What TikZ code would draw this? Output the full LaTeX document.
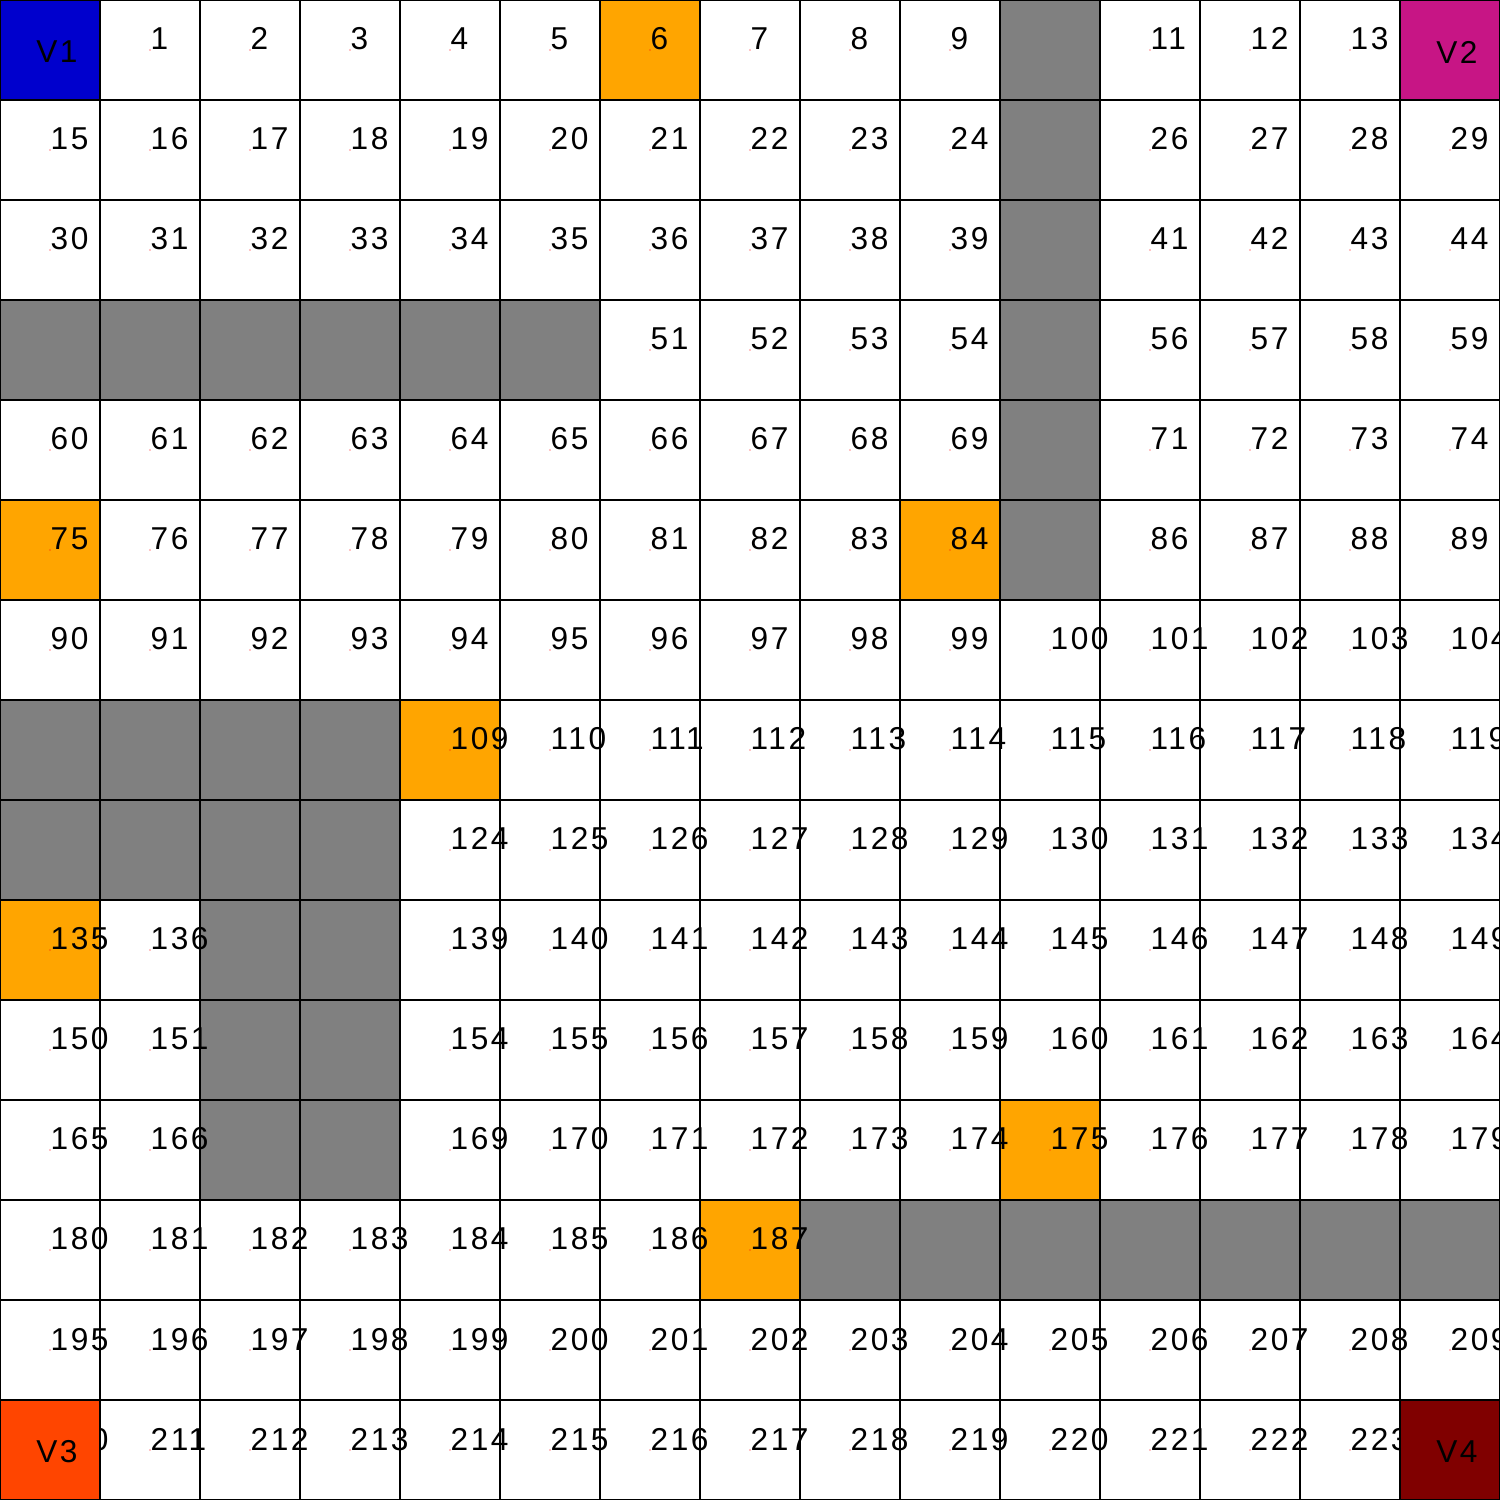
\documentclass[tikz,border=0pt]{standalone}
\usepackage{fontspec}
\setmainfont{Liberation Sans}
\newfontfamily\numfont[LetterSpace=8]{Liberation Sans}
\definecolor{vone}{HTML}{0000CD}
\definecolor{vtwo}{HTML}{C71585}
\definecolor{vthree}{HTML}{FF4500}
\definecolor{vfour}{HTML}{800000}
\definecolor{obstgrey}{HTML}{808080}
\definecolor{markorange}{HTML}{FFA500}
\tikzset{
  cellline/.style={draw=black, line width=0.3pt},
  numlabel/.style={anchor=base west, inner sep=0pt, font=\numfont\fontsize{9}{10}\selectfont},
  vlabel/.style={anchor=center, inner sep=0pt, font=\numfont\fontsize{9}{10}\selectfont},
}
\begin{document}
\begin{tikzpicture}
\useasboundingbox (0,0) rectangle (15,15);
\clip (0,0) rectangle (15,15);
\fill[white] (0,0) rectangle (15,15);
% obstacles (no label) and vertex cells whose label is fully hidden
\foreach \n in {0,14,224}{\expandafter\gdef\csname gcell\n\endcsname{}}
\foreach \n in {10,25,40,55,70,85,45,46,47,48,49,50,105,106,107,108,120,121,122,123,137,138,152,153,167,168,188,189,190,191,192,193,194}{
  \pgfmathtruncatemacro\r{int(\n/15)}
  \pgfmathtruncatemacro\c{\n-15*\r}
  \fill[obstgrey] (\c,14-\r) rectangle ++(1,1);
  \expandafter\gdef\csname gcell\n\endcsname{}
}
% marked cells
\foreach \n in {6,75,84,109,135,175,187}{
  \pgfmathtruncatemacro\r{int(\n/15)}
  \pgfmathtruncatemacro\c{\n-15*\r}
  \fill[markorange] (\c,14-\r) rectangle ++(1,1);
}
\draw[cellline] (0,0) grid (15,15);
% labels
\foreach \n in {0,...,224}{
  \ifcsname gcell\n\endcsname\else
    \pgfmathtruncatemacro\r{int(\n/15)}
    \pgfmathtruncatemacro\c{\n-15*\r}
    \coordinate (c\n) at (\c+0.5,14.5-\r);
    \node[numlabel] (t\n) at (c\n) {\n};
    \fill[red] (c\n) circle (0.006);
  \fi
}
% vertices
\filldraw[fill=vone, cellline] (0,14) rectangle (1,15);
\filldraw[fill=vtwo, cellline] (14,14) rectangle (15,15);
\filldraw[fill=vthree, cellline] (0,0) rectangle (1,1);
\filldraw[fill=vfour, cellline] (14,0) rectangle (15,1);
\node[vlabel] (v1) at (0.57,14.48) {V1};
\node[vlabel] (v2) at (14.57,14.48) {V2};
\node[vlabel] (v3) at (0.57,0.48) {V3};
\node[vlabel] (v4) at (14.57,0.48) {V4};
\end{tikzpicture}
\end{document}
